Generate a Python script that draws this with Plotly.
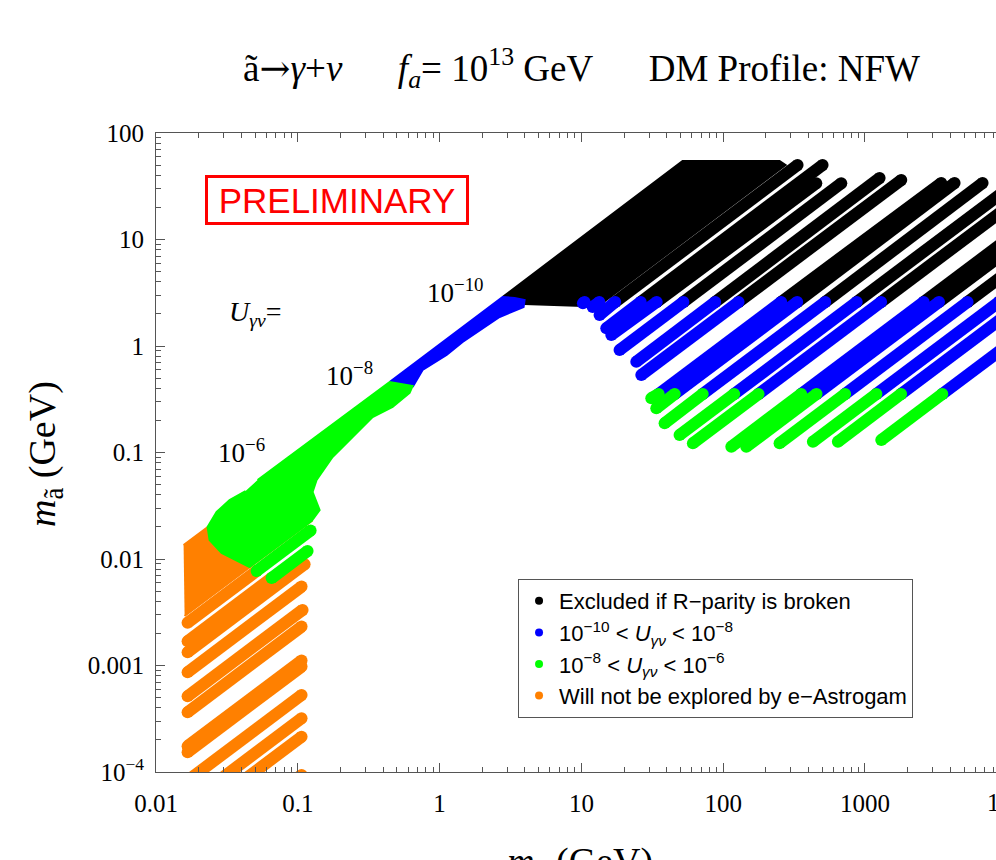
import plotly.graph_objects as go

# ---------------- data (GeV) ----------------
# Thick stripes of scan points: each segment = (m_nu start, m_a start) -> (m_nu end, m_a end)
black_nu0 = [17.32, 26.20, 33.96, 52.41, 87.84, 128.4, 256.4, 332.6, 524.1, 874.1, 1299, 2594, 3326, 5290, 8800, 13200]
black_a0  = [2.59, 2.59, 2.59, 2.59, 2.59, 2.59, 2.59, 2.59, 2.59, 2.59, 2.59, 2.59, 2.59, 2.59, 2.59, 2.59]
black_nu1 = [334.7, 502.3, 453.5, 680.5, 1268, 1803, 3451, 4284, 6750, 17000, 17000, 17000, 17000, 17000, 17000, 17000]
black_a1  = [50.06, 50.06, 33.71, 33.71, 37.81, 36.21, 33.93, 33.93, 33.93, 50.3, 33.9, 16.9, 13.2, 8.3, 5.0, 3.33]

blue_nu0 = [13.44, 14.98, 16.25, 18.59, 24.39, 26.45, 35.09, 45.50, 71.68, 119.6, 177.6, 354.8, 455.0, 724.0, 1203, 1797, 3509, 10.25, 12.0]
blue_a0  = [1.955, 1.466, 1.269, 0.917, 0.712, 0.534, 0.354, 0.354, 0.354, 0.354, 0.354, 0.354, 0.354, 0.354, 0.354, 0.354, 0.354, 2.518, 2.323]
blue_nu1 = [17.32, 26.20, 33.96, 52.41, 87.84, 128.4, 256.4, 332.6, 524.1, 874.1, 1299, 2594, 3326, 5290, 8800, 13200, 17000, 10.54, 13.38]
blue_a1  = [2.59, 2.59, 2.59, 2.59, 2.59, 2.59, 2.59, 2.59, 2.59, 2.59, 2.59, 2.59, 2.59, 2.59, 2.59, 2.59, 1.71, 2.59, 2.59]

green_nu0 = [31.11, 33.75, 38.61, 49.26, 61.13, 114.1, 145.5, 249.8, 429.1, 644.0, 1303, 0.05122, 0.06533]
green_a0  = [0.3228, 0.260, 0.188, 0.146, 0.122, 0.1133, 0.1133, 0.122, 0.1263, 0.1263, 0.131, 0.007715, 0.006617]
green_nu1 = [35.09, 45.50, 71.68, 119.6, 177.6, 354.8, 455.0, 724.0, 1203, 1797, 3509, 0.1231, 0.1172]
green_a1  = [0.354, 0.354, 0.354, 0.354, 0.354, 0.354, 0.354, 0.354, 0.354, 0.354, 0.354, 0.01856, 0.01187]

orange_nu0 = [0.0167] * 12
orange_a0  = [0.002518, 0.001691, 0.001333, 0.0008652, 0.0005149, 0.0003642, 0.0001748, 0.0001534,
              0.00008302, 0.00005017, 0.00003370, 0.00001473]
orange_nu1 = [0.05122, 0.06533, 0.1117, 0.1063, 0.1081, 0.1063, 0.1063, 0.1063, 0.1063, 0.1063, 0.1063, 0.1063]
orange_a1  = [0.007715, 0.006617, 0.008917, 0.005506, 0.003326, 0.002319, 0.001112, 0.0009765,
              0.0005285, 0.0003192, 0.0002146, 0.00009371]

# densely filled parts of the scan (outline vertices)
black_region_nu = [2.781, 51.72, 249.8, 275.4, 13.01, 3.976, 3.380]
black_region_a  = [2.885, 54.6, 54.6, 50.06, 2.349, 2.480, 2.823]
blue_region_nu = [0.4441, 2.781, 3.380, 3.976, 3.912, 2.649, 1.453, 1.120, 0.7587, 0.6451]
blue_region_a  = [0.4592, 2.885, 2.823, 2.704, 2.323, 1.872, 1.090, 0.8233, 0.5953, 0.4121]
green_region_nu = [0.05206, 0.4441, 0.6451, 0.6143, 0.4663, 0.3369, 0.2435, 0.1759, 0.1357, 0.1272,
                   0.1425, 0.1251, 0.04572, 0.02902, 0.02388, 0.02312, 0.02676, 0.03304, 0.04283]
green_region_a  = [0.05516, 0.4592, 0.4211, 0.3620, 0.2675, 0.2154, 0.1398, 0.0907, 0.05516, 0.04256,
                   0.02884, 0.02274, 0.008413, 0.01138, 0.01508, 0.01997, 0.02762, 0.03581, 0.04350]
orange_region_nu = [0.01565, 0.05555, 0.1251, 0.01591]
orange_region_a  = [0.01353, 0.04744, 0.02274, 0.002915]

x_tickvals = [0.01, 0.1, 1, 10, 100, 1000]
x_ticktext = ["0.01", "0.1", "1", "10", "100", "1000"]
y_tickvals = [1e-4, 1e-3, 1e-2, 0.1, 1, 10, 100]
y_ticktext = ["10<sup>\u22124</sup>", "0.001", "0.01", "0.1", "1", "10", "100"]
x_minor = [m * 10.0 ** e for e in range(-2, 4) for m in range(2, 10)]
y_minor = [m * 10.0 ** e for e in range(-4, 2) for m in range(2, 10)]

legend_names = [
    "Excluded if R\u2212parity is broken",
    "10<sup>\u221210</sup> &lt; <i>U</i><sub><i>\u03b3\u03bd</i></sub> &lt; 10<sup>\u22128</sup>",
    "10<sup>\u22128</sup> &lt; <i>U</i><sub><i>\u03b3\u03bd</i></sub> &lt; 10<sup>\u22126</sup>",
    "Will not be explored by e\u2212Astrogam",
]

BLACK, BLUE, GREEN, ORANGE = "#000000", "#0000ff", "#00ff00", "#ff8000"
SERIF = "Liberation Serif"
SANS = "Liberation Sans"
AXC = "#555555"
W = 12


def segs(x0, y0, x1, y1):
    xs, ys = [], []
    for a, b, c, d in zip(x0, y0, x1, y1):
        xs += [a, c, None]
        ys += [b, d, None]
    return xs, ys


fig = go.Figure()


def add_region(xs, ys, color):
    fig.add_trace(go.Scatter(x=xs, y=ys, mode="lines", fill="toself", fillcolor=color,
                             line=dict(color=color, width=2), showlegend=False, hoverinfo="skip"))


def add_stripes(x0, y0, x1, y1, color):
    xs, ys = segs(x0, y0, x1, y1)
    fig.add_trace(go.Scatter(x=xs, y=ys, mode="lines+markers",
                             line=dict(color=color, width=W),
                             marker=dict(color=color, size=W, line=dict(width=0)),
                             showlegend=False, hoverinfo="skip"))


add_region(black_region_nu, black_region_a, BLACK)
add_stripes(black_nu0, black_a0, black_nu1, black_a1, BLACK)
add_region(blue_region_nu, blue_region_a, BLUE)
add_stripes(blue_nu0, blue_a0, blue_nu1, blue_a1, BLUE)
add_region(orange_region_nu, orange_region_a, ORANGE)
add_stripes(orange_nu0, orange_a0, orange_nu1, orange_a1, ORANGE)
add_region(green_region_nu, green_region_a, GREEN)
add_stripes(green_nu0, green_a0, green_nu1, green_a1, GREEN)

for name, col in zip(legend_names, [BLACK, BLUE, GREEN, ORANGE]):
    fig.add_trace(go.Scatter(x=[None], y=[None], mode="markers", name=name,
                             marker=dict(color=col, size=8)))

axis_common = dict(type="log", showgrid=False, zeroline=False, showline=True,
                   linecolor=AXC, linewidth=1, ticks="inside", ticklen=9,
                   tickcolor=AXC, tickfont=dict(family=SERIF, size=25, color="black"))

fig.update_xaxes(range=[-2, 3.924], tickmode="array", tickvals=x_tickvals, ticktext=x_ticktext,
                 mirror="ticks", ticklabelstandoff=9,
                 minor=dict(tickmode="array", tickvals=x_minor, ticks="inside", ticklen=5,
                            tickcolor=AXC, showgrid=False),
                 **axis_common)
fig.update_yaxes(range=[-4, 2], tickmode="array", tickvals=y_tickvals, ticktext=y_ticktext,
                 mirror=False, ticklabelstandoff=6,
                 minor=dict(tickmode="array", tickvals=y_minor, ticks="inside", ticklen=5,
                            tickcolor=AXC, showgrid=False),
                 **axis_common)


def label(x, y, text, size, **kw):
    d = dict(xref="paper", yref="paper", x=x, y=y, xanchor="center", yanchor="middle",
             text=text, font=dict(family=SERIF, size=size, color="black"), showarrow=False)
    d.update(kw)
    return d


SP = "&nbsp;" * 6
ann = [
    label(0.506, 1.1017,
          "\u00e3<span style=\"font-family:DejaVu Serif\">\u2192</span><i>\u03b3</i>+<i>\u03bd</i>" + SP +
          "<i>f<sub>a</sub></i>= 10<sup>13</sup> GeV" + SP + "DM Profile: NFW", 37),
    dict(xref="paper", yref="paper", x=0.2149, y=0.8951, xanchor="center", yanchor="middle",
         text="PRELIMINARY", font=dict(family=SANS, size=35, color="#ff0000"),
         bordercolor="#ff0000", borderwidth=3, borderpad=3, bgcolor="white",
         width=252, height=38, showarrow=False),
    label(0.1179, 0.7183, "<i>U</i><sub><i>\u03b3\u03bd</i></sub>=", 28),
    label(0.3571, 0.7527, "10<sup>\u221210</sup>", 27),
    label(0.2298, 0.6228, "10<sup>\u22128</sup>", 27),
    label(0.1012, 0.5023, "10<sup>\u22126</sup>", 27),
    label(0.5048, -0.1440, "<i>m</i><sub>\u03bd\u0303</sub> (GeV)", 38),
    label(-0.1321, 0.4977, "<i>m</i><sub>\u00e3</sub> (GeV)", 38, textangle=-90),
    label(0.9869, -0.0438, "10<sup>4</sup>", 25, xanchor="left"),
]

fig.update_layout(
    width=996, height=860,
    margin=dict(l=156, r=0, t=133, b=88),
    paper_bgcolor="white", plot_bgcolor="white",
    annotations=ann,
    showlegend=True,
    legend=dict(x=0.431, y=0.302, xanchor="left", yanchor="top",
                bordercolor=AXC, borderwidth=1, bgcolor="white",
                font=dict(family=SANS, size=22, color="black"), tracegroupgap=0),
)

fig.write_html("out.html")
